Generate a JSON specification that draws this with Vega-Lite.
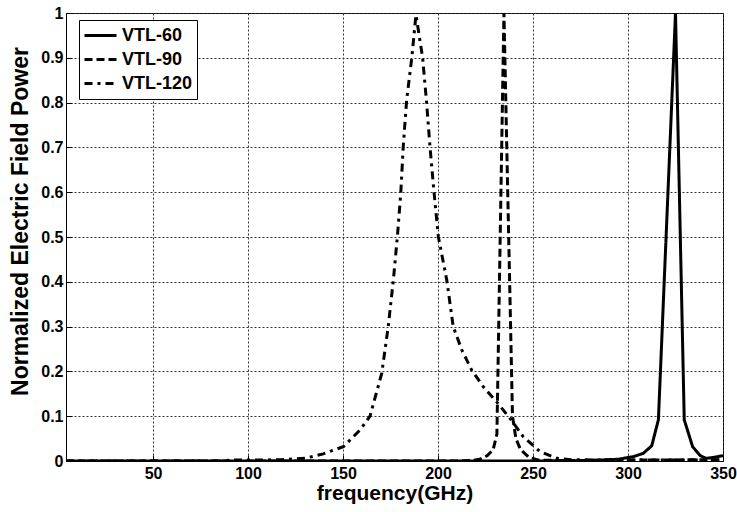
{
  "$schema": "https://vega.github.io/schema/vega-lite/v6.json",
  "width": 657,
  "height": 448,
  "autosize": {"type": "none"},
  "padding": {"left": 66, "top": 13, "right": 14, "bottom": 51},
  "background": "white",
  "config": {
    "font": "Liberation Sans",
    "view": {"stroke": "black", "strokeWidth": 1},
    "axis": {
      "labelFont": "Liberation Sans", "labelFontWeight": "bold", "labelFontSize": 16, "labelColor": "black",
      "titleFont": "Liberation Sans", "titleFontWeight": "bold", "titleColor": "black",
      "domainColor": "black", "tickColor": "black", "ticks": true, "tickSize": -6,
      "grid": true, "gridColor": "#333", "gridDash": [2, 2], "gridWidth": 1, "gridOpacity": 1
    },
    "legend": {
      "labelFont": "Liberation Sans", "labelFontWeight": "bold", "labelFontSize": 18, "labelColor": "black"
    }
  },
  "data": {"values": [
    {"f": 4.2, "p": 0, "s": "VTL-60"},
    {"f": 150, "p": 0, "s": "VTL-60"},
    {"f": 250, "p": 0, "s": "VTL-60"},
    {"f": 280, "p": 0.001, "s": "VTL-60"},
    {"f": 295, "p": 0.004, "s": "VTL-60"},
    {"f": 303, "p": 0.01, "s": "VTL-60"},
    {"f": 308, "p": 0.017, "s": "VTL-60"},
    {"f": 312.5, "p": 0.034, "s": "VTL-60"},
    {"f": 316, "p": 0.092, "s": "VTL-60"},
    {"f": 325, "p": 1, "s": "VTL-60"},
    {"f": 329.6, "p": 0.092, "s": "VTL-60"},
    {"f": 334, "p": 0.032, "s": "VTL-60"},
    {"f": 338, "p": 0.012, "s": "VTL-60"},
    {"f": 341, "p": 0.006, "s": "VTL-60"},
    {"f": 345, "p": 0.008, "s": "VTL-60"},
    {"f": 350, "p": 0.012, "s": "VTL-60"},

    {"f": 4.2, "p": 0, "s": "VTL-90"},
    {"f": 150, "p": 0, "s": "VTL-90"},
    {"f": 210, "p": 0, "s": "VTL-90"},
    {"f": 218, "p": 0.001, "s": "VTL-90"},
    {"f": 222, "p": 0.004, "s": "VTL-90"},
    {"f": 226, "p": 0.012, "s": "VTL-90"},
    {"f": 229, "p": 0.025, "s": "VTL-90"},
    {"f": 231, "p": 0.06, "s": "VTL-90"},
    {"f": 234.7, "p": 1, "s": "VTL-90"},
    {"f": 239.2, "p": 0.1, "s": "VTL-90"},
    {"f": 241, "p": 0.05, "s": "VTL-90"},
    {"f": 243.5, "p": 0.025, "s": "VTL-90"},
    {"f": 248, "p": 0.008, "s": "VTL-90"},
    {"f": 253, "p": 0.002, "s": "VTL-90"},
    {"f": 265, "p": 0.001, "s": "VTL-90"},
    {"f": 300, "p": 0.002, "s": "VTL-90"},
    {"f": 350, "p": 0.003, "s": "VTL-90"},

    {"f": 4.2, "p": 0, "s": "VTL-120"},
    {"f": 85, "p": 0, "s": "VTL-120"},
    {"f": 92, "p": 0.002, "s": "VTL-120"},
    {"f": 105, "p": 0.002, "s": "VTL-120"},
    {"f": 117, "p": 0.003, "s": "VTL-120"},
    {"f": 130, "p": 0.006, "s": "VTL-120"},
    {"f": 139.6, "p": 0.016, "s": "VTL-120"},
    {"f": 150.2, "p": 0.032, "s": "VTL-120"},
    {"f": 158.9, "p": 0.069, "s": "VTL-120"},
    {"f": 164.2, "p": 0.1, "s": "VTL-120"},
    {"f": 170.4, "p": 0.196, "s": "VTL-120"},
    {"f": 173.8, "p": 0.3, "s": "VTL-120"},
    {"f": 176.5, "p": 0.404, "s": "VTL-120"},
    {"f": 178.6, "p": 0.5, "s": "VTL-120"},
    {"f": 180.4, "p": 0.598, "s": "VTL-120"},
    {"f": 181.7, "p": 0.702, "s": "VTL-120"},
    {"f": 183.5, "p": 0.806, "s": "VTL-120"},
    {"f": 186.2, "p": 0.9, "s": "VTL-120"},
    {"f": 188.4, "p": 0.996, "s": "VTL-120"},
    {"f": 191.9, "p": 0.9, "s": "VTL-120"},
    {"f": 194, "p": 0.8, "s": "VTL-120"},
    {"f": 195.8, "p": 0.7, "s": "VTL-120"},
    {"f": 197.9, "p": 0.6, "s": "VTL-120"},
    {"f": 200.2, "p": 0.5, "s": "VTL-120"},
    {"f": 204.6, "p": 0.404, "s": "VTL-120"},
    {"f": 208, "p": 0.3, "s": "VTL-120"},
    {"f": 212.5, "p": 0.248, "s": "VTL-120"},
    {"f": 217.7, "p": 0.203, "s": "VTL-120"},
    {"f": 223.8, "p": 0.166, "s": "VTL-120"},
    {"f": 230.9, "p": 0.132, "s": "VTL-120"},
    {"f": 237.9, "p": 0.095, "s": "VTL-120"},
    {"f": 244.9, "p": 0.054, "s": "VTL-120"},
    {"f": 253.7, "p": 0.021, "s": "VTL-120"},
    {"f": 262.5, "p": 0.006, "s": "VTL-120"},
    {"f": 270, "p": 0.003, "s": "VTL-120"},
    {"f": 285, "p": 0.002, "s": "VTL-120"},
    {"f": 320, "p": 0.002, "s": "VTL-120"},
    {"f": 350, "p": 0.002, "s": "VTL-120"}
  ]},
  "mark": {"type": "line", "color": "black", "strokeWidth": 3, "clip": true},
  "encoding": {
    "x": {
      "field": "f", "type": "quantitative",
      "scale": {"domain": [4.2, 350], "nice": false, "zero": false},
      "axis": {"values": [50, 100, 150, 200, 250, 300, 350], "title": "frequency(GHz)", "titleFontSize": 21, "labelPadding": 10, "titleY": 38, "titleBaseline": "alphabetic", "labelFlush": false}
    },
    "y": {
      "field": "p", "type": "quantitative",
      "scale": {"domain": [0, 1], "nice": false},
      "axis": {"values": [0, 0.1, 0.2, 0.3, 0.4, 0.5, 0.6, 0.7, 0.8, 0.9, 1], "format": "~g", "title": "Normalized Electric Field Power", "titleFontSize": 23, "labelPadding": 9, "titleX": -39, "titleY": 208, "titleBaseline": "alphabetic", "labelFlush": false}
    },
    "strokeDash": {
      "field": "s", "type": "nominal",
      "scale": {"domain": ["VTL-60", "VTL-90", "VTL-120"], "range": [[1, 0], [8, 4], [8, 5, 3, 5]]},
      "legend": {
        "title": null, "orient": "none", "legendX": 13, "legendY": 7,
        "strokeColor": "black", "fillColor": "white", "padding": 4,
        "symbolType": "stroke", "symbolSize": 1024, "symbolStrokeWidth": 3, "symbolStrokeColor": "black",
        "clipHeight": 23, "rowPadding": 1, "labelOffset": 4
      }
    }
  }
}
